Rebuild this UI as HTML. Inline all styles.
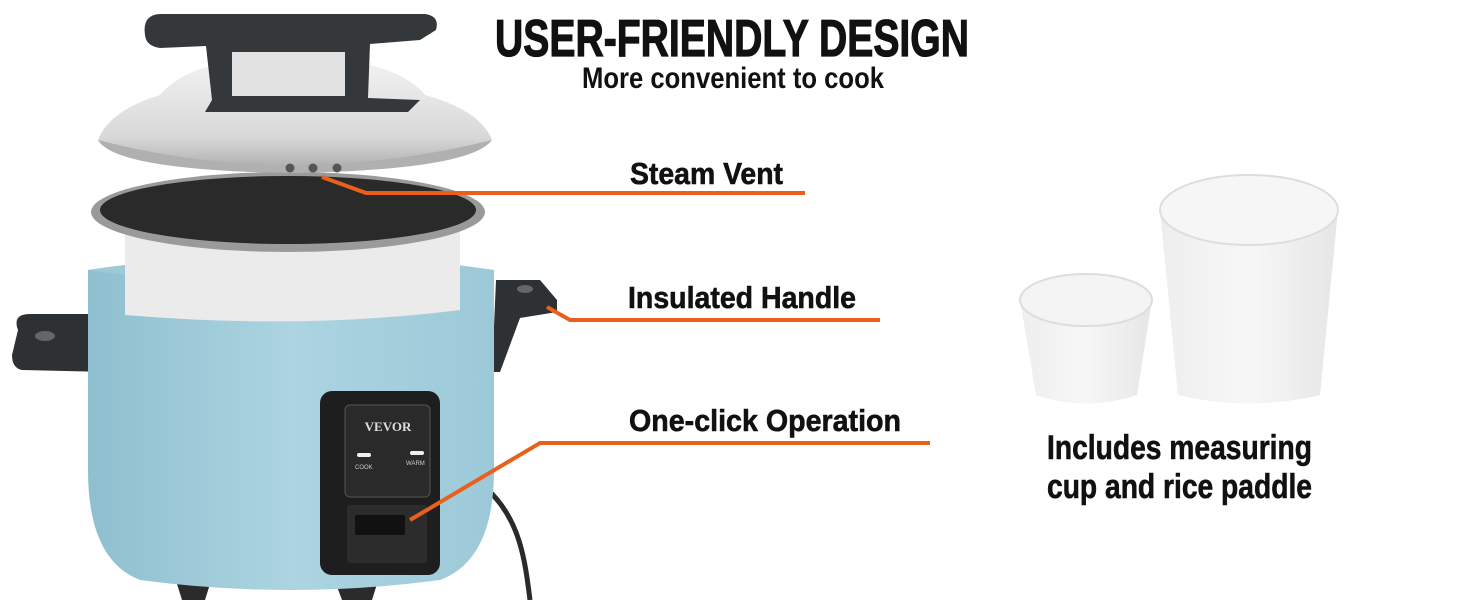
<!DOCTYPE html>
<html><head><meta charset="utf-8"><style>
html,body{margin:0;padding:0;background:#fff;}
svg{display:block}
text{font-family:"Liberation Sans Narrow","Liberation Sans",sans-serif;font-weight:bold;fill:#111}
</style></head><body>
<svg width="1464" height="600" viewBox="0 0 1464 600" xmlns="http://www.w3.org/2000/svg">
<defs>
<linearGradient id="lid" x1="0" y1="0" x2="0" y2="1"><stop offset="0" stop-color="#f4f4f4"/><stop offset="0.7" stop-color="#d8d8d8"/><stop offset="1" stop-color="#a8a8a8"/></linearGradient>
<linearGradient id="body" x1="0" y1="0" x2="1" y2="0"><stop offset="0" stop-color="#8fbfcf"/><stop offset="0.5" stop-color="#acd4e1"/><stop offset="1" stop-color="#9cc9d8"/></linearGradient>
<linearGradient id="cup" x1="0" y1="0" x2="1" y2="0"><stop offset="0" stop-color="#eeeeee"/><stop offset="0.5" stop-color="#f7f7f7"/><stop offset="1" stop-color="#e6e6e6"/></linearGradient>
</defs>
<!-- cord -->
<path d="M488 490 C520 520 525 560 530 600" stroke="#2a2a2a" stroke-width="5" fill="none"/>
<!-- feet -->
<path d="M172 568 L215 568 L205 600 L182 600Z" fill="#2b2b2b"/>
<path d="M330 568 L382 568 L372 600 L342 600Z" fill="#2b2b2b"/>
<!-- left handle -->
<path d="M18 330 Q12 314 30 314 L120 314 L140 335 L140 421 L112 421 L108 372 L22 370 Q12 368 12 355Z" fill="#2e3134"/>
<ellipse cx="45" cy="336" rx="10" ry="5" fill="#666"/>
<!-- right handle -->
<path d="M496 280 L540 280 L557 300 L557 312 L520 318 L500 372 L492 372 Z" fill="#2e3134"/>
<ellipse cx="525" cy="289" rx="8" ry="4" fill="#666"/>
<!-- body -->
<path d="M88 270 Q290 240 494 270 L494 470 Q494 560 440 580 Q290 600 140 580 Q88 560 88 470Z" fill="url(#body)"/>
<path d="M88 270 Q290 240 494 270 Q290 300 88 270Z" fill="#9ec9d7"/>
<!-- inner pot -->
<path d="M125 230 L460 230 L460 310 Q300 330 125 315Z" fill="#ebebeb"/>
<!-- rim -->
<ellipse cx="288" cy="212" rx="197" ry="40" fill="#9a9a9a"/>
<ellipse cx="288" cy="210" rx="188" ry="34" fill="#2a2a2a"/>
<!-- lid -->
<path d="M98 140 Q110 110 160 95 Q190 58 290 55 Q395 58 425 95 Q480 110 492 140 Q470 170 290 173 Q115 170 98 140Z" fill="url(#lid)"/>
<path d="M98 140 Q290 190 492 140 Q470 170 290 173 Q115 170 98 140Z" fill="#b0b0b0"/>
<circle cx="290" cy="168" r="4.5" fill="#555"/><circle cx="313" cy="168" r="4.5" fill="#555"/><circle cx="337" cy="168" r="4.5" fill="#555"/>
<!-- lid handle -->
<path d="M145 35 Q142 15 160 14 L425 14 Q440 16 436 30 L420 40 L370 44 L368 98 L420 100 L408 112 L205 112 L212 100 L206 46 L160 48 Q146 46 145 35Z" fill="#35383b"/>
<path d="M232 52 L345 52 L345 96 L232 96Z" fill="#e2e2e2"/>
<!-- control panel -->
<rect x="320" y="391" width="120" height="184" rx="12" fill="#1e1e1e"/>
<rect x="345" y="405" width="85" height="92" rx="5" fill="#2a2a2a" stroke="#555"/>
<text x="388" y="431" font-size="13" text-anchor="middle" style="fill:#ddd;font-family:'Liberation Serif',serif">VEVOR</text>
<rect x="357" y="453" width="14" height="4" rx="2" fill="#eee"/><rect x="410" y="451" width="14" height="4" rx="2" fill="#eee"/>
<text x="355" y="469" font-size="6" style="fill:#ccc;font-family:'Liberation Sans',sans-serif;font-weight:normal">COOK</text>
<text x="406" y="465" font-size="6" style="fill:#ccc;font-family:'Liberation Sans',sans-serif;font-weight:normal">WARM</text>
<rect x="347" y="505" width="80" height="58" rx="3" fill="#2c2c2c"/>
<rect x="355" y="515" width="50" height="20" rx="2" fill="#111"/>
<!-- cups -->
<path d="M1020 300 Q1085 280 1152 300 L1137 395 Q1085 412 1036 395Z" fill="url(#cup)"/>
<ellipse cx="1086" cy="300" rx="66" ry="26" fill="#f4f4f4" stroke="#ddd" stroke-width="2"/>
<path d="M1160 210 L1338 210 L1320 395 Q1250 412 1178 395Z" fill="url(#cup)"/>
<ellipse cx="1249" cy="210" rx="89" ry="35" fill="#f6f6f6" stroke="#ddd" stroke-width="2"/>
<!-- connectors -->
<g stroke="#e8601c" stroke-width="4" fill="none">
<polyline points="322,177 366,193 805,193"/>
<polyline points="547,307 570,320 880,320"/>
<polyline points="410,520 540,443 930,443"/>
</g>
<!-- text -->
<text x="495" y="56" font-size="52" textLength="474" lengthAdjust="spacingAndGlyphs" stroke="#111" stroke-width="1.2">USER-FRIENDLY DESIGN</text>
<text x="582" y="88" font-size="30" textLength="302" lengthAdjust="spacingAndGlyphs">More convenient to cook</text>
<text x="630" y="184" font-size="31" textLength="153" lengthAdjust="spacingAndGlyphs" stroke="#111" stroke-width="0.6">Steam Vent</text>
<text x="628" y="308" font-size="31" textLength="228" lengthAdjust="spacingAndGlyphs" stroke="#111" stroke-width="0.6">Insulated Handle</text>
<text x="629" y="431" font-size="31" textLength="272" lengthAdjust="spacingAndGlyphs" stroke="#111" stroke-width="0.6">One-click Operation</text>
<text x="1047" y="459" font-size="34" textLength="265" lengthAdjust="spacingAndGlyphs" stroke="#111" stroke-width="0.6">Includes measuring</text>
<text x="1047" y="498" font-size="34" textLength="265" lengthAdjust="spacingAndGlyphs" stroke="#111" stroke-width="0.6">cup and rice paddle</text>
</svg>
</body></html>
